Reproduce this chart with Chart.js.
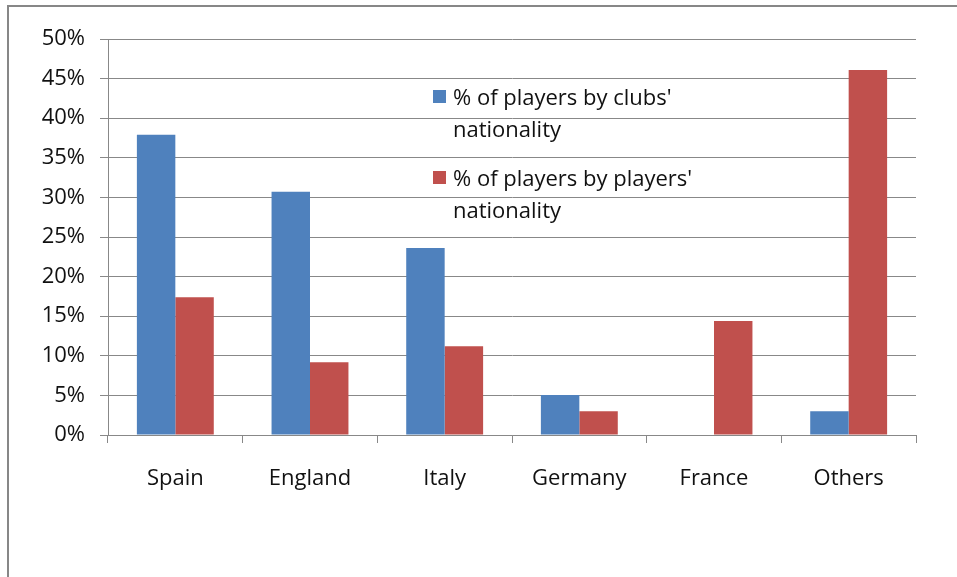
<!DOCTYPE html>
<html>
<head>
<meta charset="utf-8">
<script src="https://cdn.jsdelivr.net/npm/chart.js@4/dist/chart.umd.min.js"></script>
<style>
  html, body { margin: 0; padding: 0; background: #ffffff; }
  #wrap { width: 957px; height: 577px; position: relative; }
</style>
</head>
<body>
<div id="wrap"><canvas id="c" width="957" height="577"></canvas></div>
<script>
const categories = ["Spain", "England", "Italy", "Germany", "France", "Others"];
const clubsNationality = [37.9, 30.7, 23.6, 5.05, 0, 3.0];
const playersNationality = [17.4, 9.2, 11.2, 3.0, 14.4, 46.1];
const seriesLabels = [
  ["% of players by clubs'", "nationality"],
  ["% of players by players'", "nationality"]
];
const yTicks = [0, 5, 10, 15, 20, 25, 30, 35, 40, 45, 50];

const FONT = "'Open Sans', 'Noto Sans', sans-serif";
const FONT_SIZE = 22;
const GRID = '#888888';
const COLORS = ['#4F81BD', '#C0504D'];

const framePlugin = {
  id: 'frame',
  beforeDraw(chart) {
    const ctx = chart.ctx;
    ctx.save();
    ctx.strokeStyle = '#878787';
    ctx.lineWidth = 2;
    ctx.beginPath();
    ctx.moveTo(8, 577);
    ctx.lineTo(8, 6);
    ctx.lineTo(957, 6);
    ctx.stroke();
    ctx.restore();
  }
};

const legendPlugin = {
  id: 'customLegend',
  afterDraw(chart) {
    const ctx = chart.ctx;
    ctx.save();
    ctx.font = FONT_SIZE + 'px ' + FONT;
    ctx.textBaseline = 'alphabetic';
    ctx.textAlign = 'left';
    const boxX = 433, textX = 453;
    const itemTops = [90, 171];
    chart.data.datasets.forEach((ds, i) => {
      const top = itemTops[i];
      ctx.fillStyle = ds.backgroundColor;
      ctx.fillRect(boxX, top, 13, 13);
      ctx.fillStyle = '#111111';
      const lines = seriesLabels[i];
      lines.forEach((ln, j) => {
        ctx.fillText(ln, textX, top + 15 + j * 32);
      });
    });
    ctx.restore();
  }
};

new Chart(document.getElementById('c'), {
  type: 'bar',
  data: {
    labels: categories,
    datasets: [
      { label: seriesLabels[0].join(' '), data: clubsNationality, backgroundColor: COLORS[0],
        categoryPercentage: 0.571, barPercentage: 1.0 },
      { label: seriesLabels[1].join(' '), data: playersNationality, backgroundColor: COLORS[1],
        categoryPercentage: 0.571, barPercentage: 1.0 }
    ]
  },
  options: {
    responsive: false,
    animation: false,
    devicePixelRatio: 1,
    layout: { padding: { top: 39, right: 41, left: 0, bottom: 0 } },
    plugins: {
      legend: { display: false },
      tooltip: { enabled: false },
      title: { display: false }
    },
    scales: {
      x: {
        offset: true,
        grid: {
          display: true,
          offset: true,
          drawOnChartArea: false,
          drawTicks: true,
          tickLength: 8,
          color: GRID,
          lineWidth: 1
        },
        border: { display: true, color: GRID, width: 1 },
        ticks: {
          color: '#111111',
          font: { family: FONT, size: FONT_SIZE },
          padding: 23,
          maxRotation: 0,
          autoSkip: false
        },
        afterFit(scale) { scale.height = 142; }
      },
      y: {
        min: 0,
        max: 50,
        afterBuildTicks(scale) { scale.ticks = yTicks.map(v => ({ value: v })); },
        grid: {
          color: GRID,
          lineWidth: 1,
          drawTicks: true,
          tickLength: 8
        },
        border: { display: true, color: GRID, width: 1 },
        ticks: {
          color: '#111111',
          font: { family: FONT, size: FONT_SIZE },
          padding: 15,
          callback: v => v + '%'
        },
        afterFit(scale) { scale.width = 108; }
      }
    }
  },
  plugins: [framePlugin, legendPlugin]
});
</script>
</body>
</html>
